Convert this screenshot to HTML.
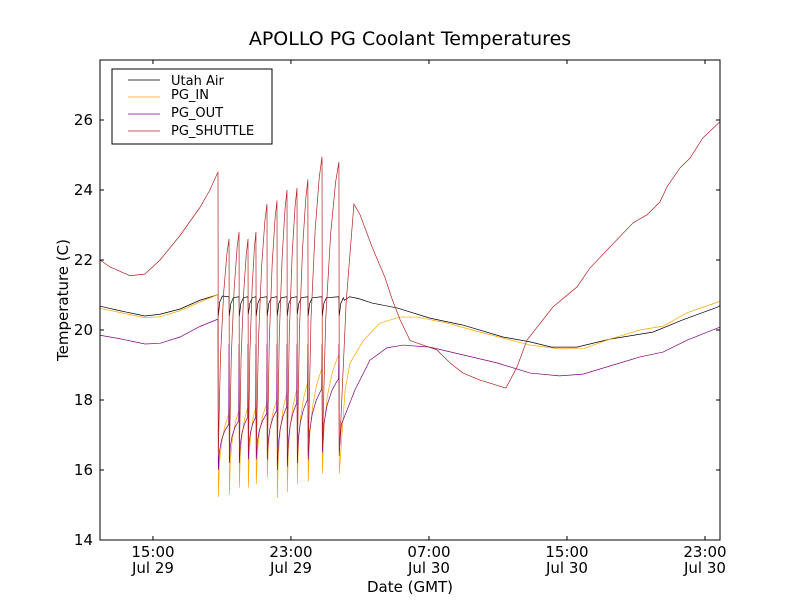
<!DOCTYPE html>
<html><head><meta charset="utf-8"><style>
body{margin:0;background:#fff;}
svg{display:block;font-family:"DejaVu Sans","Liberation Sans",sans-serif;}
</style></head><body>
<svg id="chart" width="800" height="600" viewBox="0 0 800 600">
<rect width="800" height="600" fill="#fff"/>
<text x="410" y="45" font-size="19" text-anchor="middle">APOLLO PG Coolant Temperatures</text>
<text x="410" y="592" font-size="15" text-anchor="middle">Date (GMT)</text>
<text x="68" y="300" font-size="15" text-anchor="middle" transform="rotate(-90 68 300)">Temperature (C)</text>
<g id="series"></g>
<g id="axes"></g>
<g>
<rect x="112" y="69" width="160" height="75" fill="#fff" stroke="#000" stroke-width="1"/>
<line x1="128" y1="80" x2="160" y2="80" stroke="#000" stroke-width="0.7"/>
<text x="171" y="85" font-size="13">Utah Air</text>
<line x1="128" y1="97" x2="160" y2="97" stroke="#ffa500" stroke-width="0.7"/>
<text x="171" y="99" font-size="13">PG_IN</text>
<line x1="128" y1="114" x2="160" y2="114" stroke="#800080" stroke-width="0.7"/>
<text x="171" y="117" font-size="13">PG_OUT</text>
<line x1="128" y1="131" x2="160" y2="131" stroke="#b22222" stroke-width="0.7"/>
<text x="171" y="135" font-size="13">PG_SHUTTLE</text>
</g>
</svg>
<script>
// hours since 12:00 Jul 29 (GMT)
const xTickHours = [3, 11, 19, 27, 35];
const xTickTimes = ["15:00", "23:00", "07:00", "15:00", "23:00"];
const xTickDates = ["Jul 29", "Jul 29", "Jul 30", "Jul 30", "Jul 30"];
const yTicks = [14, 16, 18, 20, 22, 24, 26];

// cycling period
const cycleDrops = [6.77,7.41,7.99,8.51,8.97,9.61,10.19,10.77,11.35,11.98,12.80,13.78];
const redPeak = [24.5,22.6,22.8,22.6,22.8,23.6,23.7,24.0,24.06,24.3,24.95,24.8];
const redMin = [16.5,16.4,16.5,16.5,16.5,16.4,16.4,16.5,16.5,16.5,16.6,16.4];
const airTop = [21.0,20.95,20.95,20.95,20.95,20.95,20.95,20.95,20.95,20.95,20.95,20.95];
const airDip = [20.4,20.4,20.4,20.45,20.4,20.4,20.4,20.4,20.45,20.4,20.4,20.4];
const inTop = [21.0,17.6,17.7,17.8,17.8,17.9,18.0,18.2,18.3,18.5,18.9,19.3];
const inMin = [15.23,15.3,15.5,15.5,15.6,15.8,15.2,15.37,15.6,15.66,15.9,15.9];
const outTop = [20.3,17.3,17.4,17.5,17.5,17.6,17.7,17.8,17.9,18.0,18.3,18.6];
const outSpike = [20.3,19.6,19.6,19.6,19.6,19.6,19.6,19.6,19.6,19.6,19.6,19.6];
const outMin = [16.0,16.2,16.2,16.3,16.3,16.3,16.0,16.1,16.2,16.3,16.5,16.5];

// smooth segments before / after cycling: [hour, value]
const redPre = [[-0.07,22.0],[0.51,21.8],[1.67,21.55],[2.54,21.6],[3.41,22.0],[4.57,22.7],[5.72,23.5],[6.30,24.0],[6.71,24.45]];
const redPost = [[14.2,20.8],[14.65,23.6],[15.0,23.3],[15.70,22.37],[16.45,21.5],[16.85,20.9],[17.32,20.3],[17.90,19.7],[18.65,19.57],[19.46,19.43],[20.22,19.06],[20.97,18.77],[21.96,18.57],[23.46,18.34],[24.10,18.94],[24.68,19.71],[26.19,20.66],[27.58,21.23],[28.33,21.77],[29.49,22.37],[30.83,23.06],[31.64,23.29],[32.39,23.66],[32.80,24.09],[33.55,24.63],[34.13,24.91],[34.88,25.49],[35.87,25.95]];
const airPre = [[-0.07,20.68],[1.09,20.55],[2.54,20.4],[3.41,20.45],[4.57,20.6],[5.72,20.85],[6.71,21.0]];
const airPost = [[14.1,20.85],[14.4,20.95],[14.9,20.9],[15.7,20.77],[17.15,20.63],[19.05,20.34],[20.97,20.14],[23.29,19.8],[24.86,19.66],[26.1,19.51],[27.58,19.51],[29.49,19.74],[31.98,19.94],[33.72,20.29],[35.75,20.66],[35.87,20.7]];
const inPre = [[-0.07,20.62],[1.09,20.5],[2.54,20.35],[3.41,20.38],[4.57,20.55],[5.72,20.8],[6.71,21.0]];
const inPost = [[14.14,18.3],[14.43,19.06],[15.2,19.7],[16.16,20.2],[17.32,20.37],[18.30,20.37],[20.04,20.2],[21.96,19.94],[24.86,19.57],[26.57,19.46],[28.0,19.47],[29.49,19.74],[31.23,20.0],[32.57,20.11],[33.96,20.49],[35.75,20.8],[35.87,20.83]];
const outPre = [[-0.07,19.85],[1.09,19.75],[2.54,19.6],[3.41,19.62],[4.57,19.8],[5.72,20.1],[6.71,20.3]];
const outPost = [[13.92,17.3],[14.72,18.3],[15.58,19.14],[16.56,19.49],[17.5,19.57],[19.05,19.51],[20.97,19.29],[22.94,19.06],[24.86,18.77],[26.57,18.69],[27.93,18.74],[31.23,19.23],[32.57,19.37],[33.96,19.71],[35.75,20.06],[35.87,20.08]];

const X0 = 100, X1 = 720, Y0 = 540, Y1 = 60;
const hMin = -0.07, hMax = 35.87, vMin = 14, vMax = 14 + 480/35;
function xs(h){ return X0 + (h - hMin) / (hMax - hMin) * (X1 - X0); }
function ys(v){ return Y0 - (v - vMin) / (vMax - vMin) * (Y0 - Y1); }

const NS = "http://www.w3.org/2000/svg";
const gS = document.getElementById("series");
const gA = document.getElementById("axes");

function rise(pts, t0, t1, lo, hi, fr, vr){
  for (let k = 0; k < fr.length; k++) pts.push([t0 + fr[k]*(t1 - t0), lo + vr[k]*(hi - lo)]);
}
const shapeF = [0.1,0.3,0.6,0.9];
const shapeV = [0.4,0.65,0.85,0.97];
const redF = [0.2,0.5,0.8];
const redV = [0.45,0.75,0.93];

function build(pre, post, kind){
  const pts = pre.slice();
  const n = cycleDrops.length;
  for (let i = 0; i < n; i++){
    const d = cycleDrops[i], dn = i < n-1 ? cycleDrops[i+1] : null;
    if (kind === "red"){
      pts.push([d, redPeak[i]]); pts.push([d+0.02, redMin[i]]);
      if (dn !== null) rise(pts, d+0.02, dn, redMin[i], redPeak[i+1], redF, redV);
    } else if (kind === "air"){
      pts.push([d, airTop[i]]); pts.push([d+0.02, airDip[i]]);
      pts.push([d+0.1, airTop[i]-0.2]); pts.push([d+0.25, airTop[i]-0.03]);
      if (dn !== null) pts.push([dn-0.02, airTop[i+1]]);
    } else if (kind === "in"){
      pts.push([d, inTop[i]]); pts.push([d+0.02, inMin[i]]);
      if (dn !== null) rise(pts, d+0.02, dn, inMin[i], inTop[i+1], shapeF, shapeV);
    } else {
      pts.push([d-0.02, outTop[i]]); pts.push([d, outSpike[i]]); pts.push([d+0.02, outMin[i]]);
      if (dn !== null) rise(pts, d+0.02, dn-0.02, outMin[i], outTop[i+1], shapeF, shapeV);
    }
  }
  return pts.concat(post);
}

const seriesDefs = [
  ["utah-air-line", build(airPre, airPost, "air"), "#000000"],
  ["pg-in-line", build(inPre, inPost, "in"), "#ffa500"],
  ["pg-out-line", build(outPre, outPost, "out"), "#800080"],
  ["pg-shuttle-line", build(redPre, redPost, "red"), "#b22222"]
];
for (const s of seriesDefs){
  const p = document.createElementNS(NS, "path");
  p.setAttribute("d", s[1].map((q, i) => (i ? "L" : "M") + xs(q[0]).toFixed(2) + "," + ys(q[1]).toFixed(2)).join(""));
  p.setAttribute("fill", "none");
  p.setAttribute("stroke", s[2]);
  p.setAttribute("stroke-width", "0.7");
  
  
  gS.appendChild(p);
}

// frame
const frame = document.createElementNS(NS, "rect");
frame.setAttribute("x", X0); frame.setAttribute("y", Y1);
frame.setAttribute("width", X1 - X0); frame.setAttribute("height", Y0 - Y1);
frame.setAttribute("fill", "none"); frame.setAttribute("stroke", "#000"); frame.setAttribute("stroke-width", "1");


gA.appendChild(frame);

function line(x1, y1, x2, y2, name){
  const l = document.createElementNS(NS, "line");
  l.setAttribute("x1", x1); l.setAttribute("y1", y1); l.setAttribute("x2", x2); l.setAttribute("y2", y2);
  l.setAttribute("stroke", "#000"); l.setAttribute("stroke-width", "1");
  
  
  gA.appendChild(l);
}
function text(x, y, str, anchor, name){
  const t = document.createElementNS(NS, "text");
  t.setAttribute("x", x); t.setAttribute("y", y); t.setAttribute("font-size", "15");
  t.setAttribute("text-anchor", anchor); t.textContent = str;
  
  
  gA.appendChild(t);
}
yTicks.forEach(v => {
  const y = ys(v);
  line(X0, y, X0+4, y, "y-tick");
  line(X1, y, X1-4, y, "y-tick-right");
  text(X0-7, y+5, String(v), "end", "y-tick-label");
});
xTickHours.forEach((h, i) => {
  const x = xs(h);
  line(x, Y0, x, Y0-4, "x-tick");
  line(x, Y1, x, Y1+4, "x-tick-top");
  text(x, 557, xTickTimes[i], "middle", "x-tick-label-time");
  text(x, 573, xTickDates[i], "middle", "x-tick-label-date");
});
</script>
</body></html>
